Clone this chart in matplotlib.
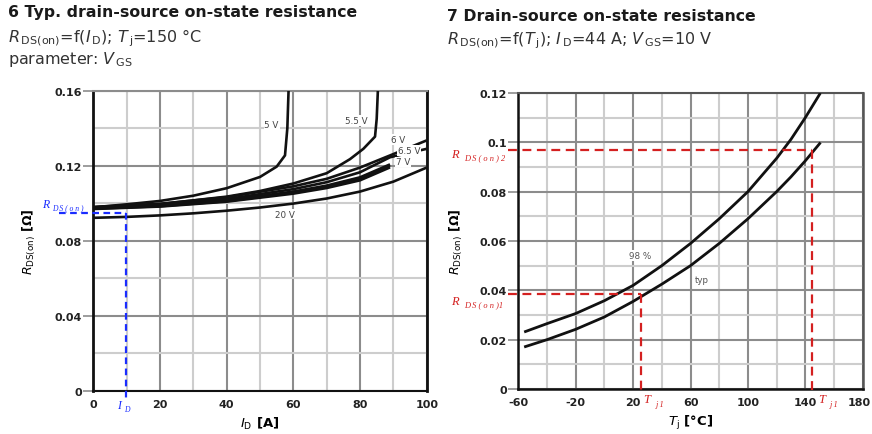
import matplotlib
matplotlib.use("Agg")
import matplotlib.pyplot as plt
from matplotlib.ticker import FixedLocator, FuncFormatter
from matplotlib.transforms import ScaledTranslation

plt.rcParams['font.family'] = ['DejaVu Sans']
plt.rcParams['mathtext.fontset'] = 'dejavusans'
plt.rcParams['axes.unicode_minus'] = False

W, H = 872, 435

# ---------------- Diagram 6: R_DS(on) vs I_D at Tj = 150 °C ----------------
id_5v = [0, 10, 20, 30, 40, 50, 55, 57.5, 58.2, 58.6]
r_5v = [0.0978, 0.0994, 0.1012, 0.1040, 0.1080, 0.1140, 0.1195, 0.1255, 0.1400, 0.1620]

id_55v = [0, 20, 40, 50, 60, 70, 77, 81, 84.5, 85.0, 85.4]
r_55v = [0.0978, 0.0995, 0.1035, 0.1065, 0.1105, 0.1160, 0.1235, 0.1290, 0.1355, 0.1450, 0.1620]

id_6v = [0, 20, 40, 60, 70, 80, 90, 100]
r_6v = [0.0980, 0.0997, 0.1032, 0.1090, 0.1130, 0.1190, 0.1262, 0.1335]

id_65v = [0, 20, 40, 60, 70, 80, 89, 100]
r_65v = [0.0976, 0.0991, 0.1022, 0.1075, 0.1112, 0.1165, 0.1245, 0.1290]

id_7v = [0, 20, 40, 60, 70, 80, 89]
r_7v = [0.0973, 0.0987, 0.1015, 0.1062, 0.1094, 0.1138, 0.1207]

id_8v = [0, 20, 40, 60, 70, 80, 89]
r_8v = [0.0971, 0.0984, 0.1011, 0.1056, 0.1087, 0.1130, 0.1199]

id_10v = [0, 20, 40, 60, 70, 80, 89]
r_10v = [0.0969, 0.0982, 0.1008, 0.1051, 0.1081, 0.1122, 0.1191]

id_20v = [0, 10, 20, 30, 40, 50, 60, 70, 80, 90, 100]
r_20v = [0.0922, 0.0927, 0.0935, 0.0946, 0.0960, 0.0977, 0.0998, 0.1025, 0.1062, 0.1115, 0.1190]

vgs_labels = ["5 V", "5.5 V", "6 V", "6.5 V", "7 V", "20 V"]
vgs_label_pos = [(53.5, 0.1420), (79.0, 0.1440), (91.5, 0.1340),
                 (94.8, 0.1280), (92.8, 0.1220), (57.5, 0.0942)]

id_ticks = [0, 20, 40, 60, 80, 100]
r6_ticks = [0, 0.04, 0.08, 0.12, 0.16]

id_op = 9.8
rds_op = 0.0946

# ---------------- Diagram 7: R_DS(on) vs Tj, I_D = 44 A, V_GS = 10 V ----------------
tj = [-55, -40, -20, 0, 20, 40, 60, 80, 100, 120, 130, 140, 150]
r_98 = [0.0233, 0.0265, 0.0306, 0.0358, 0.0420, 0.0500, 0.0590, 0.0690, 0.0800,
        0.0935, 0.1012, 0.1100, 0.1195]
r_typ = [0.0172, 0.0200, 0.0242, 0.0292, 0.0355, 0.0425, 0.0500, 0.0590, 0.0690,
         0.0800, 0.0860, 0.0925, 0.0995]

tj_ticks = [-60, -20, 20, 60, 100, 140, 180]
r7_ticks = [0, 0.02, 0.04, 0.06, 0.08, 0.1, 0.12]

tj1 = 25.5
rds1 = 0.0386
tj2 = 145
rds2 = 0.0967

BLACK = "#111111"
MAJ = "#8c8c8c"
MIN = "#cdcdcd"
RED = "#d42020"
BLUE = "#1a2cff"


def fx(px):
    return px / W


def fy(py):
    return 1 - py / H


fig = plt.figure(figsize=(W / 100, H / 100), dpi=100)
ax1 = fig.add_axes([fx(93.3), fy(391.7), (426.7 - 93.3) / W, (391.7 - 91.7) / H])
ax2 = fig.add_axes([fx(518.3), fy(390), (862.7 - 518.3) / W, (390 - 94) / H])


def style(ax, xmaj, xmin, ymaj, ymin):
    ax.set_axisbelow(True)
    ax.xaxis.set_major_locator(FixedLocator(xmaj))
    ax.xaxis.set_minor_locator(FixedLocator(xmin))
    ax.yaxis.set_major_locator(FixedLocator(ymaj))
    ax.yaxis.set_minor_locator(FixedLocator(ymin))
    ax.yaxis.set_major_formatter(FuncFormatter(lambda v, p: "0" if v == 0 else f"{v:g}"))
    ax.grid(which="major", color=MAJ, lw=1.5)
    ax.grid(which="minor", color=MIN, lw=1.5)
    ax.tick_params(axis="x", which="both", length=0, pad=6, labelsize=8,
                   colors="#222222")
    ax.tick_params(axis="y", which="major", length=7, width=1.2, color=MAJ,
                   pad=1, labelsize=8, labelcolor="#222222")
    ax.tick_params(axis="y", which="minor", length=0)
    for lab in ax.get_xticklabels() + ax.get_yticklabels():
        lab.set_fontweight("bold")


# ---- left diagram ----
ax1.set_xlim(0, 100)
ax1.set_ylim(0, 0.16)
style(ax1, id_ticks, [10, 30, 50, 70, 90], r6_ticks, [0.02, 0.06, 0.10, 0.14])
ax1.spines["left"].set(color=BLACK, lw=2)
ax1.spines["bottom"].set(color=BLACK, lw=1.5)
ax1.spines["right"].set(color=BLACK, lw=2)
ax1.spines["top"].set(color=MAJ, lw=1.5)

curves6 = [(id_5v, r_5v), (id_55v, r_55v), (id_6v, r_6v), (id_65v, r_65v),
           (id_7v, r_7v), (id_8v, r_8v), (id_10v, r_10v), (id_20v, r_20v)]
for xs, ys in curves6:
    ax1.plot(xs, ys, color=BLACK, lw=1.9, solid_capstyle="butt", zorder=3)

for text, (x, y) in zip(vgs_labels, vgs_label_pos):
    ax1.text(x, y, text, fontsize=6.3, color="#444444", ha="center", va="center",
             zorder=4, bbox=dict(facecolor="white", edgecolor="none", pad=0.6))

ax1.set_xlabel(r"$\mathit{I}_{\mathrm{D}}$ [A]", fontsize=9.5, fontweight="bold",
               labelpad=4)
ax1.set_ylabel(r"$R_{\mathrm{DS(on)}}$ [Ω]", fontsize=9, fontweight="bold")
ax1.yaxis.set_label_coords(-0.165, 0.5)

# operating point lines
ax1.plot([-10.3, id_op], [rds_op, rds_op], color=BLUE, lw=1.6, ls=(0, (3, 2)),
         clip_on=False, zorder=5)
ax1.plot([id_op, id_op], [rds_op, -0.004], color=BLUE, lw=1.6, ls=(0, (3, 2)),
         clip_on=False, zorder=5)
blue_serif = dict(family="Liberation Serif", style="italic", color=BLUE)
fig.text(fx(42), fy(208), "R", fontsize=8.5, **blue_serif)
fig.text(fx(52), fy(210), "D S ( o n )", fontsize=5.5, **blue_serif)
fig.text(fx(117), fy(409), "I", fontsize=8.5, **blue_serif)
fig.text(fx(124), fy(412), "D", fontsize=5.5, **blue_serif)

# ---- right diagram ----
ax2.set_xlim(-60, 180)
ax2.set_ylim(0, 0.12)
style(ax2, tj_ticks, [-40, 0, 40, 80, 120, 160], r7_ticks,
      [0.01, 0.03, 0.05, 0.07, 0.09, 0.11])
ax2.spines["left"].set(color=BLACK, lw=1.8)
ax2.spines["bottom"].set(color=BLACK, lw=1.8)
ax2.spines["right"].set(color="#555555", lw=1.8)
ax2.spines["top"].set(color="#555555", lw=1.5)

# keep the last temperature label inside the canvas
fig.canvas.draw()
last = ax2.get_xticklabels()[-1]
last.set_transform(last.get_transform() + ScaledTranslation(-3 / 100, 0, fig.dpi_scale_trans))

ax2.plot(tj, r_98, color=BLACK, lw=2.0, zorder=3)
ax2.plot(tj, r_typ, color=BLACK, lw=2.0, zorder=3)
ax2.text(25.2, 0.0541, "98 %", fontsize=6.3, color="#555555", ha="center",
         va="center", zorder=4, bbox=dict(facecolor="white", edgecolor="none", pad=0.6))
ax2.text(68, 0.0444, "typ", fontsize=6.3, color="#555555", ha="center",
         va="center", zorder=4, bbox=dict(facecolor="white", edgecolor="none", pad=0.6))

ax2.set_xlabel(r"$\mathit{T}_{\mathrm{j}}$ [°C]", fontsize=9.5, fontweight="bold",
               labelpad=4)
ax2.set_ylabel(r"$R_{\mathrm{DS(on)}}$ [Ω]", fontsize=9, fontweight="bold")
ax2.yaxis.set_label_coords(-0.155, 0.5)

dash = dict(color=RED, lw=1.6, ls=(0, (4, 2.5)), clip_on=False, zorder=5)
ax2.plot([-67.2, tj1], [rds1, rds1], **dash)
ax2.plot([tj1, tj1], [rds1, -0.002], **dash)
ax2.plot([-67.2, tj2], [rds2, rds2], **dash)
ax2.plot([tj2, tj2], [rds2, -0.002], **dash)

serif = dict(family="Liberation Serif", style="italic", color=RED)
fig.text(fx(451), fy(158), "R", fontsize=9, **serif)
fig.text(fx(464), fy(160), "D S ( o n ) 2", fontsize=6, **serif)
fig.text(fx(451), fy(305), "R", fontsize=9, **serif)
fig.text(fx(464), fy(307), "D S ( o n )1", fontsize=6, **serif)
fig.text(fx(643), fy(403), "T", fontsize=9, **serif)
fig.text(fx(656), fy(407), "j 1", fontsize=6, **serif)
fig.text(fx(818), fy(403), "T", fontsize=9, **serif)
fig.text(fx(830), fy(407), "j 1", fontsize=6, **serif)

# ---- titles ----
fig.text(fx(8), fy(17), "6 Typ. drain-source on-state resistance", fontsize=11.3,
         fontweight="bold", color="#1a1a1a")
fig.text(fx(8), fy(42), r"$R_{\,\mathrm{DS(on)}}$=f($I_{\,\mathrm{D}}$); $T_{\,\mathrm{j}}$=150 °C",
         fontsize=11.5, color="#333333")
fig.text(fx(8), fy(64), r"parameter: $V_{\,\mathrm{GS}}$", fontsize=11.5, color="#333333")

fig.text(fx(447), fy(21), "7 Drain-source on-state resistance", fontsize=11.3,
         fontweight="bold", color="#1a1a1a")
fig.text(fx(447), fy(44),
         r"$R_{\,\mathrm{DS(on)}}$=f($T_{\,\mathrm{j}}$); $I_{\,\mathrm{D}}$=44 A; $V_{\,\mathrm{GS}}$=10 V",
         fontsize=11.5, color="#333333")

fig.savefig("out.png", dpi=100, facecolor="white")
